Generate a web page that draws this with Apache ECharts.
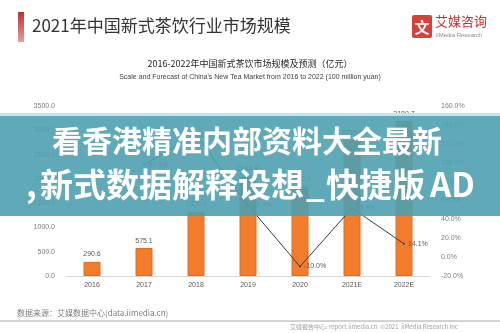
<!DOCTYPE html>
<html>
<head>
<meta charset="utf-8">
<script src="https://cdn.jsdelivr.net/npm/echarts@6/dist/echarts.min.js"></script>
<style>
	html, body { margin: 0; padding: 0; background: #fff; }
	#main { width: 500px; height: 333px; }
</style>
</head>
<body>
<div id="main"></div>
<script>
// 数据
var years = ['2016', '2017', '2018', '2019', '2020', '2021E', '2022E'];
var scale = [290.6, 575.1, 1320.0, 2044.8, 1840.3, 2795.9, 3189.7];
var growth = [null, 97.9, 129.5, 54.9, -10.0, 51.9, 14.1];

(function () {
	var myChart = echarts.init(document.getElementById('main'));
	var font = '"Noto Sans CJK SC", "Liberation Sans", sans-serif';

	// 横幅文字
	function bannerText(str, x, y, size) {
		return {
			type: 'text',
			z: 101,
			left: x,
			top: y,
			style: {
				text: str,
				fontSize: size,
				fontWeight: 'bold',
				fill: '#fff',
				fontFamily: font,
				shadowColor: 'rgba(20, 50, 60, 0.8)',
				shadowBlur: 2,
				shadowOffsetX: 1,
				shadowOffsetY: 1
			}
		};
	}

	var option = {
		animation: false,
		textStyle: { fontFamily: font },
		title: [
			{
				text: '2016-2022年中国新式茶饮市场规模及预测（亿元）',
				left: 'center',
				top: 54,
				textStyle: { fontSize: 9, fontWeight: 'normal', color: '#262626', fontFamily: font }
			},
			{
				text: "Scale and Forecast of China's New Tea Market from 2016 to 2022 (100 million yuan)",
				left: 'center',
				top: 69,
				textStyle: { fontSize: 7, fontWeight: 'normal', color: '#404040', fontFamily: 'Liberation Sans' }
			}
		],
		grid: {
			left: 66,
			right: 70,
			top: 106,
			bottom: 57
		},
		xAxis: {
			type: 'category',
			data: years,
			axisTick: { show: false },
			axisLine: { lineStyle: { color: '#d9d9d9' } },
			axisLabel: { color: '#595959', fontSize: 7, margin: 6, fontFamily: 'Liberation Sans' }
		},
		yAxis: [
			{
				type: 'value',
				min: 0,
				max: 3500,
				interval: 500,
				splitLine: { show: false },
				axisLine: { show: false },
				axisTick: { show: false },
				axisLabel: {
					color: '#7f7f7f',
					fontSize: 7,
					margin: 11,
					fontFamily: 'Liberation Sans',
					formatter: function (v) { return v.toFixed(1); }
				}
			},
			{
				type: 'value',
				min: -20,
				max: 160,
				interval: 20,
				splitLine: { show: false },
				axisLine: { show: false },
				axisTick: { show: false },
				axisLabel: {
					color: '#7f7f7f',
					fontSize: 7,
					margin: 11,
					fontFamily: 'Liberation Sans',
					formatter: function (v) { return v.toFixed(1) + '%'; }
				}
			}
		],
		series: [
			{
				name: '市场规模',
				type: 'bar',
				data: scale,
				barWidth: 17,
				itemStyle: { color: '#f07c2c', borderColor: '#e2691c', borderWidth: 1 },
				label: {
					show: true,
					position: 'top',
					distance: 4,
					color: '#595959',
					fontSize: 7,
					fontFamily: 'Liberation Sans',
					formatter: function (p) { return p.value.toFixed(1); }
				}
			},
			{
				name: '增长率',
				type: 'line',
				yAxisIndex: 1,
				data: growth,
				symbol: 'circle',
				symbolSize: 2,
				itemStyle: { color: '#3a3a3a' },
				lineStyle: { color: '#3a3a3a', width: 1 },
				label: {
					show: true,
					position: 'right',
					distance: 3,
					color: '#595959',
					fontSize: 7,
					fontFamily: 'Liberation Sans',
					formatter: function (p) { return p.value == null ? '' : p.value.toFixed(1) + '%'; }
				}
			}
		],
		graphic: [
			// 标题左侧色条
			{
				type: 'rect',
				shape: { x: 18, y: 12, width: 6, height: 30 },
				style: {
					fill: new echarts.graphic.LinearGradient(0, 0, 0, 1, [
						{ offset: 0, color: '#b8322f' },
						{ offset: 1, color: '#ec9c96' }
					])
				}
			},
			{
				type: 'text',
				left: 32,
				top: 17,
				style: { text: '2021年中国新式茶饮行业市场规模', fontSize: 17, fill: '#333', fontFamily: font }
			},
			// logo
			{
				type: 'rect',
				shape: { x: 412, y: 15, width: 20, height: 23, r: 2 },
				style: { fill: '#d8403a' }
			},
			{
				type: 'text',
				x: 422,
				y: 27,
				style: { text: '文', fontSize: 15, fontWeight: 'bold', fill: '#fff', align: 'center', verticalAlign: 'middle', fontFamily: font }
			},
			{
				type: 'text',
				left: 435,
				top: 15,
				style: { text: '艾媒咨询', fontSize: 13, fill: '#c8322e', fontFamily: font }
			},
			{
				type: 'text',
				left: 436,
				top: 32,
				style: { text: 'iiMedia Research', fontSize: 6, fill: '#8c8c8c', fontFamily: 'Liberation Sans' }
			},
			// 数据来源
			{
				type: 'text',
				left: 17,
				top: 309,
				style: { text: '数据来源：艾媒数据中心(data.iimedia.cn)', fontSize: 8, fill: '#7f7f7f', fontFamily: font }
			},
			{
				type: 'line',
				shape: { x1: 0, y1: 321, x2: 500, y2: 321 },
				style: { stroke: '#a6a6a6', lineWidth: 1 }
			},
			{
				type: 'text',
				left: 290,
				top: 324,
				style: { text: '艾媒报告中心: report.iimedia.cn  ©2021  iiMedia Research Inc', fontSize: 6, fill: '#a0a0a0', fontFamily: font }
			},
			// 覆盖横幅
			{
				type: 'rect',
				z: 100,
				shape: { x: 0, y: 113, width: 500, height: 103 },
				style: { fill: 'rgba(78, 160, 177, 0.9)' }
			},
			{
				type: 'rect',
				z: 100,
				shape: { x: 0, y: 113, width: 500, height: 3 },
				style: { fill: 'rgba(200, 240, 245, 0.9)' }
			},
			bannerText('看香港精准内部资料大全最新', 52, 126, 30),
			bannerText(',', 26, 168, 33),
			bannerText('新式数据解释设想', 40, 168, 33),
			bannerText('_', 306, 168, 33),
			bannerText('快捷版', 326, 168, 33),
			bannerText('AD', 430, 168, 33)
		]
	};
	myChart.setOption(option);
	window.addEventListener('resize', function () {
		myChart.resize();
	});
})();
</script>
</body>
</html>
